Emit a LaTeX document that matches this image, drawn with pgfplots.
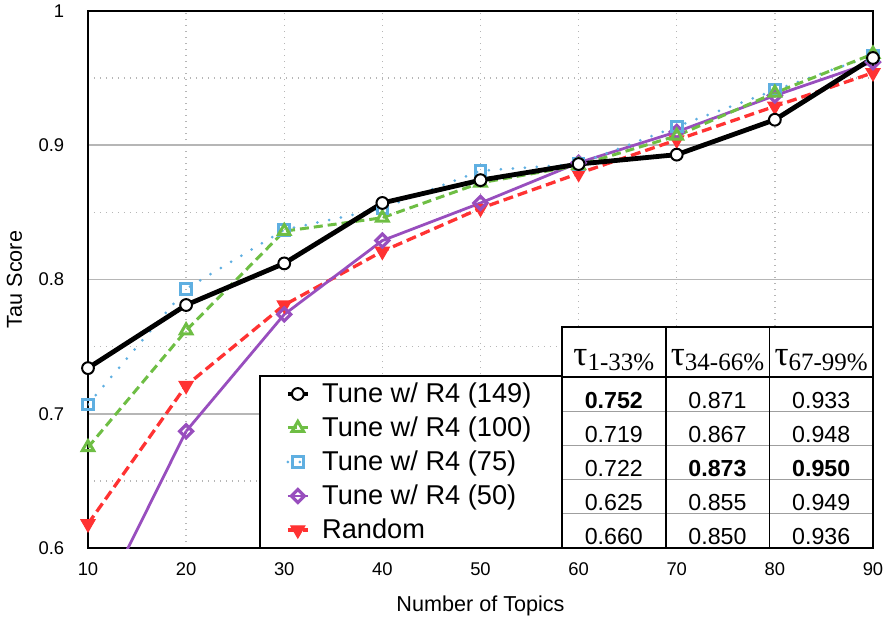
\documentclass[border=0pt]{standalone}
\usepackage{pgfplots}
\pgfplotsset{compat=1.18}
\usepackage{fontspec}
\setmainfont{Liberation Sans}
\newfontfamily\seriffont{Liberation Serif}

\definecolor{cGreen}{RGB}{110,190,68}
\definecolor{cBlue}{RGB}{95,175,225}
\definecolor{cPurple}{RGB}{152,78,190}
\definecolor{cRed}{RGB}{255,50,50}
\definecolor{gridgray}{RGB}{182,182,182}

\begin{document}
\begin{tikzpicture}
\useasboundingbox (-44pt,-37.5pt) rectangle (401pt,274pt);
\begin{axis}[
  scale only axis, width=392.5pt, height=268.5pt,
  at={(0,0)}, anchor=south west,
  xmin=10, xmax=90, ymin=0.6, ymax=1,
  xtick={10,20,...,90}, ytick={0.6,0.7,0.8,0.9,1},
  minor ytick={0.65,0.75,0.85,0.95},
  major tick length=0pt, minor tick length=0pt,
  xmajorgrids, ymajorgrids, yminorgrids,
  major x grid style={gridgray, line width=0.7pt, dash pattern=on 0.7pt off 2.3pt},
  major y grid style={gridgray, line width=0.8pt},
  minor y grid style={gridgray, line width=0.7pt, dash pattern=on 0.7pt off 2.3pt},
  axis line style={line width=0.9pt},
  /pgf/number format/assume math mode=true,
  tick label style={font=\fontsize{9.2}{11}\selectfont},
  yticklabel style={xshift=-8.4pt},
  xticklabel style={yshift=-3.9pt},
  xlabel={Number of Topics}, ylabel={Tau Score},
  label style={font=\fontsize{10.8}{13}\selectfont},
  xlabel style={at={(axis description cs:0.5,-0.1186)}, anchor=base},
  ylabel style={at={(axis description cs:-0.0841,0.5)}, anchor=base, rotate=0},
  reverse legend,
  legend cell align=left,
  legend image code/.code={\draw[mark repeat=2,mark phase=2] plot coordinates {(0pt,0pt) (5pt,0pt) (10pt,0pt)};},
  legend style={at={(axis cs:30.08,0.6641)}, anchor=west, draw=none, fill=none,
    inner sep=0pt, row sep=4.5pt, column sep=6pt,
    font=\fontsize{13.6}{15}\selectfont,
    nodes={inner sep=0pt, text height=10.5pt, text depth=2pt}},
]
% Random
\addplot[cRed, line width=1.65pt, dash pattern=on 5pt off 2.5pt,
  mark=triangle*, mark size=4pt, mark options={solid, rotate=180, fill=cRed, line width=0.6pt}]
  coordinates {(10,0.618) (20,0.721) (30,0.781) (40,0.821) (50,0.853) (60,0.879) (70,0.904) (80,0.929) (90,0.954)};
\addlegendentry{Random}
% Tune w/ R4 (50): first segment leaves the plotted range
\addplot[cPurple, line width=1.4pt, forget plot] coordinates {(10,0.540) (20,0.687)};
\addplot[cPurple, line width=1.4pt,
  mark=square, mark size=2.3pt, mark options={solid, rotate=45, line width=1.6pt, fill=white}]
  coordinates {(20,0.687) (30,0.774) (40,0.829) (50,0.857) (60,0.887) (70,0.910) (80,0.937) (90,0.962)};
\addlegendentry{Tune w/ R4 (50)}
% Tune w/ R4 (75)
\addplot[cBlue, line width=1.5pt, line cap=round, dash pattern=on 0pt off 6pt,
  mark=square, mark size=2.65pt, mark options={solid, line width=1.5pt, fill=white}]
  coordinates {(10,0.707) (20,0.793) (30,0.837) (40,0.853) (50,0.881) (60,0.886) (70,0.914) (80,0.941) (90,0.967)};
\addlegendentry{Tune w/ R4 (75)}
% Tune w/ R4 (100)
\addplot[cGreen, line width=1.5pt, dash pattern=on 4.5pt off 2.5pt,
  mark=triangle, mark size=3.3pt, mark options={solid, line width=1.5pt, fill=white}]
  coordinates {(10,0.675) (20,0.762) (30,0.836) (40,0.846) (50,0.872) (60,0.885) (70,0.907) (80,0.939) (90,0.968)};
\addlegendentry{Tune w/ R4 (100)}
% Tune w/ R4 (149)
\addplot[black, line width=2.4pt,
  mark=*, mark size=2.95pt, mark options={solid, fill=white, draw=black, line width=1pt}]
  coordinates {(10,0.734) (20,0.781) (30,0.812) (40,0.857) (50,0.874) (60,0.886) (70,0.893) (80,0.919) (90,0.965)};
\addlegendentry{Tune w/ R4 (149)}
% legend frame
\draw[fill=white, line width=0.9pt] (axis cs:27.53,0.6) rectangle (axis cs:58.3,0.6641+0.0641);
\end{axis}

% summary table in the lower right corner
\begin{scope}[shift={(392.5pt,0pt)}]
  \fill[white] (-155.5pt,0pt) rectangle (0pt,110.6pt);
  \foreach \y in {17.1,34.2,51.3,68.4}
    \draw[gray!75, line width=0.5pt] (-155.5pt,\y pt) -- (0pt,\y pt);
  \draw[line width=0.9pt] (-155.5pt,85.5pt) -- (0pt,85.5pt);
  \draw[line width=0.9pt] (-103.7pt,0pt) -- (-103.7pt,110.6pt);
  \draw[line width=0.9pt] (-51.8pt,0pt) -- (-51.8pt,110.6pt);
  \draw[line width=0.9pt] (-155.5pt,0pt) rectangle (0pt,110.6pt);
  % header
  \foreach \x/\s in {-129.6/1-33, -77.75/34-66, -25.9/67-99}
    \node[anchor=base, inner sep=0pt] at (\x pt,91.5pt)
      {\seriffont\fontsize{17.5}{17.5}\selectfont τ\raisebox{-2.5pt}{\fontsize{12.5}{12.5}\selectfont \s\%}};
  % values
  \begin{scope}[every node/.style={anchor=base, inner sep=0pt, font=\fontsize{11.6}{13}\selectfont}]
    \node at (-129.6pt,69.85pt) {\textbf{0.752}};
    \node at (-77.75pt,69.85pt) {0.871};
    \node at (-25.9pt,69.85pt) {0.933};
    \node at (-129.6pt,52.85pt) {0.719};
    \node at (-77.75pt,52.85pt) {0.867};
    \node at (-25.9pt,52.85pt) {0.948};
    \node at (-129.6pt,35.85pt) {0.722};
    \node at (-77.75pt,35.85pt) {\textbf{0.873}};
    \node at (-25.9pt,35.85pt) {\textbf{0.950}};
    \node at (-129.6pt,18.85pt) {0.625};
    \node at (-77.75pt,18.85pt) {0.855};
    \node at (-25.9pt,18.85pt) {0.949};
    \node at (-129.6pt,1.85pt) {0.660};
    \node at (-77.75pt,1.85pt) {0.850};
    \node at (-25.9pt,1.85pt) {0.936};
  \end{scope}
\end{scope}
\end{tikzpicture}
\end{document}
